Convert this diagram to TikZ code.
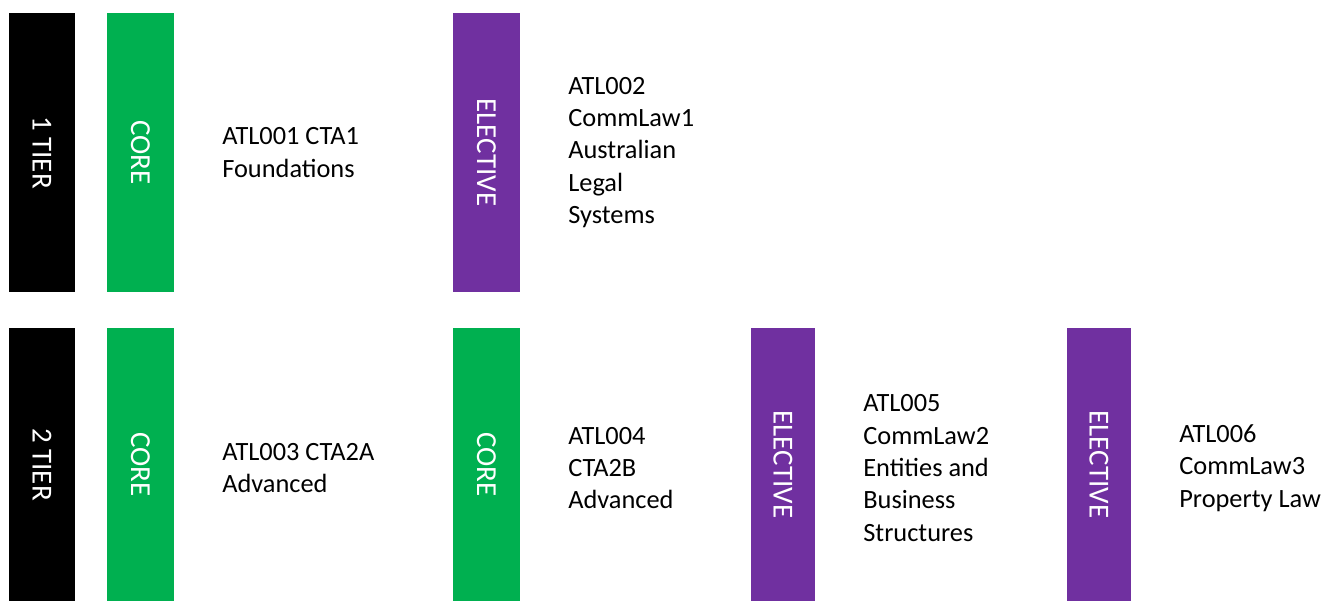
\documentclass[tikz,border=0pt]{standalone}
\usepackage{fontspec}
\setmainfont{Carlito}
\definecolor{coregreen}{HTML}{00B050}
\definecolor{electpurple}{HTML}{7030A0}
\tikzset{
  bar/.style={rotate=-90,inner sep=0pt,minimum height=1.34cm,text=white,
    font=\fontsize{16.5}{19}\selectfont},
  narrow/.style={minimum height=1.28cm},
  rowone/.style={minimum width=5.58cm},
  rowtwo/.style={minimum width=5.46cm},
  unit/.style={anchor=west,align=left,inner sep=0pt,
    font=\fontsize{15}{18.4}\selectfont}
}
\begin{document}
\begin{tikzpicture}[x=0.02cm,y=-0.02cm]
\useasboundingbox (0,0) rectangle (1326,601);

\node[bar,rowone,fill=black] (tier1) at (42,152.5) {1 TIER};
\node[bar,rowone,fill=coregreen] (core1) at (140.5,152.5) {CORE};
\node[unit] (atl001) at (222,152.5) {ATL001 CTA1\\Foundations};
\node[bar,rowone,fill=electpurple] (elect1) at (486.5,152.5) {ELECTIVE};
\node[unit] (atl002) at (568,152.5) {ATL002\\CommLaw1\\Australian\\Legal\\Systems};

\node[bar,rowtwo,fill=black] (tier2) at (42,464.5) {2 TIER};
\node[bar,rowtwo,fill=coregreen] (core2) at (140.5,464.5) {CORE};
\node[unit] (atl003) at (222,468) {ATL003 CTA2A\\Advanced};
\node[bar,rowtwo,fill=coregreen] (core3) at (486.5,464.5) {CORE};
\node[unit] (atl004) at (568,468) {ATL004\\CTA2B\\Advanced};
\node[bar,rowtwo,narrow,fill=electpurple] (elect2) at (783,464.5) {ELECTIVE};
\node[unit] (atl005) at (863,468) {ATL005\\CommLaw2\\Entities and\\Business\\Structures};
\node[bar,rowtwo,narrow,fill=electpurple] (elect3) at (1099,464.5) {ELECTIVE};
\node[unit] (atl006) at (1179,468) {ATL006\\CommLaw3\\Property Law};
\end{tikzpicture}
\end{document}
